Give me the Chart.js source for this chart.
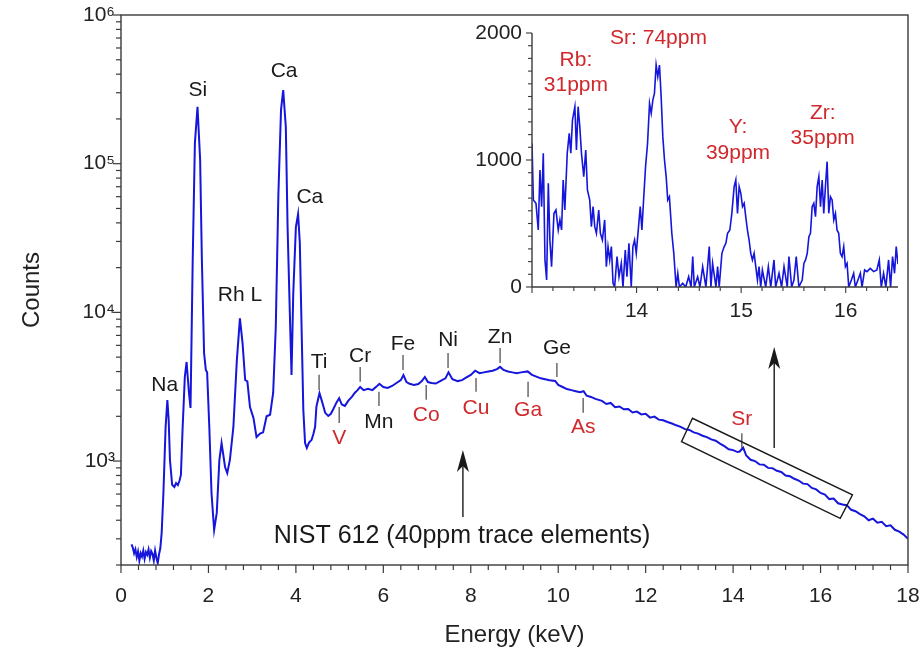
<!DOCTYPE html>
<html>
<head>
<meta charset="utf-8">
<script src="https://cdn.jsdelivr.net/npm/chart.js@4.4.0/dist/chart.umd.min.js"></script>
<style>
    html, body { margin: 0; padding: 0; background: #fff; }
    #wrap { position: relative; width: 922px; height: 652px; }
    #main { position: absolute; left: 0; top: 0; }
    #inset { position: absolute; left: 460px; top: 15px; }
</style>
</head>
<body>
<div id="wrap">
    <canvas id="main" width="922" height="652"></canvas>
    <canvas id="inset" width="450" height="312"></canvas>
</div>
<script>
// main spectrum (keV, counts)
const energy = [
    0.24, 0.27, 0.30, 0.33, 0.36, 0.39, 0.42, 0.45, 0.48, 0.51, 0.54, 0.57, 0.60, 0.63, 0.66, 0.69,
    0.72, 0.75, 0.78, 0.81, 0.84, 0.87, 0.90, 0.93, 0.97, 1.02, 1.06, 1.09, 1.12, 1.17, 1.22, 1.26,
    1.30, 1.34, 1.37, 1.41, 1.46, 1.50, 1.555, 1.59, 1.64, 1.69, 1.75, 1.81, 1.85, 1.90, 1.94, 1.97,
    2.02, 2.07, 2.13, 2.19, 2.25, 2.30, 2.38, 2.43, 2.49, 2.57, 2.65, 2.72, 2.78, 2.84, 2.89, 2.95,
    3.03, 3.10, 3.18, 3.25, 3.33, 3.41, 3.48, 3.54, 3.60, 3.66, 3.71, 3.77, 3.81, 3.87, 3.90, 3.94,
    4.00, 4.05, 4.09, 4.13, 4.17, 4.21, 4.25, 4.30, 4.36, 4.40, 4.44, 4.47, 4.54, 4.60, 4.67, 4.74,
    4.80, 4.86, 4.93, 4.99, 5.05, 5.12, 5.20, 5.28, 5.35, 5.41, 5.47, 5.55, 5.65, 5.75, 5.85, 5.91,
    6.00, 6.10, 6.20, 6.30, 6.40, 6.46, 6.53, 6.60, 6.70, 6.80, 6.88, 6.95, 7.02, 7.10, 7.20, 7.30,
    7.42, 7.49, 7.58, 7.70, 7.80, 7.90, 8.00, 8.10, 8.20, 8.30, 8.40, 8.50, 8.60, 8.67, 8.75, 8.85,
    8.95, 9.05, 9.15, 9.30, 9.40, 9.50, 9.60, 9.70, 9.80, 9.93, 10.0, 10.1, 10.2, 10.3, 10.4, 10.5,
    10.58, 10.65, 10.75, 10.85, 11.0, 11.1, 11.2, 11.3, 11.4, 11.5, 11.6, 11.7, 11.8, 11.9, 12.0, 12.1,
    12.2, 12.3, 12.4, 12.5, 12.6, 12.7, 12.8, 12.9, 13.0, 13.1, 13.2, 13.3, 13.4, 13.5, 13.6, 13.7,
    13.8, 13.9, 14.0, 14.1, 14.15, 14.23, 14.3, 14.4, 14.5, 14.6, 14.7, 14.8, 14.9, 15.0, 15.1, 15.2,
    15.3, 15.4, 15.5, 15.6, 15.7, 15.8, 15.9, 16.0, 16.1, 16.2, 16.3, 16.4, 16.5, 16.6, 16.7, 16.8,
    16.9, 17.0, 17.1, 17.2, 17.3, 17.4, 17.5, 17.6, 17.7, 17.8, 17.9, 18.0
];
const counts = [
    275, 262, 240, 255, 226, 246, 214, 240, 228, 250, 220, 244, 234, 254, 224, 248,
    238, 214, 250, 224, 206, 236, 260, 329, 610, 1690, 2570, 1900, 1016, 692, 670, 712,
    690, 740, 807, 1690, 3680, 4640, 2870, 2277, 22500, 137700, 241600, 106000, 22500, 5330, 4100, 3950,
    1690, 610, 344, 448, 1016, 1320, 912, 830, 1016, 1690, 4790, 9120, 6220, 3510, 3440, 2310,
    1950, 1450, 1530, 1560, 2000, 2050, 2870, 7940, 63000, 230000, 313000, 176000, 37500, 7940, 3790, 13500,
    37500, 45900, 29300, 7940, 2210, 1320, 1225, 1330, 1390, 1520, 1700, 2330, 2860, 2500, 2110, 2010,
    2080, 2250, 2480, 2650, 2400, 2350, 2550, 2700, 2880, 3000, 3150, 3000, 3060, 3000, 3180, 3310,
    3150, 3100, 3200, 3350, 3500, 3790, 3400, 3310, 3250, 3300, 3450, 3680, 3400, 3350, 3320, 3450,
    3600, 3950, 3550, 3450, 3500, 3650, 3800, 4050, 3900, 3950, 4000, 4050, 4150, 4300, 4100, 4000,
    3950, 3900, 3950, 4010, 3800, 3700, 3600, 3550, 3500, 3460, 3250, 3150, 3050, 3000, 2950, 2900,
    2950, 2750, 2700, 2620, 2540, 2420, 2460, 2300, 2330, 2230, 2240, 2120, 2150, 2060, 2080, 1960,
    1990, 1900, 1880, 1830, 1790, 1740, 1700, 1640, 1620, 1560, 1530, 1480, 1450, 1400, 1370, 1310,
    1260, 1200, 1185, 1150, 1160, 1230, 1090, 1020, 1000, 950, 945, 900, 895, 860, 845, 800,
    790, 760, 740, 705, 700, 660, 645, 610, 595, 555, 560, 520, 510, 505, 470, 460,
    440, 425, 400, 410, 385, 390, 365, 370, 345, 335, 320, 300
];

// inset: 13 - 16.5 keV on a linear count axis
const insetEnergy = [
    13.000, 13.013, 13.038, 13.060, 13.076, 13.092, 13.108, 13.124, 13.140, 13.156, 13.171, 13.187,
    13.210, 13.229, 13.251, 13.267, 13.283, 13.298, 13.314, 13.337, 13.356, 13.371, 13.387, 13.410,
    13.425, 13.441, 13.457, 13.473, 13.495, 13.514, 13.530, 13.552, 13.568, 13.584, 13.600, 13.616,
    13.638, 13.654, 13.673, 13.695, 13.711, 13.727, 13.743, 13.759, 13.775, 13.790, 13.813, 13.832,
    13.854, 13.870, 13.892, 13.908, 13.927, 13.949, 13.965, 13.981, 13.997, 14.019, 14.035, 14.051,
    14.067, 14.086, 14.105, 14.124, 14.140, 14.156, 14.171, 14.187, 14.203, 14.219, 14.235, 14.251,
    14.267, 14.283, 14.298, 14.314, 14.337, 14.356, 14.378, 14.394, 14.410, 14.441, 14.470, 14.498,
    14.521, 14.537, 14.552, 14.584, 14.606, 14.632, 14.663, 14.695, 14.711, 14.727, 14.759, 14.775,
    14.790, 14.816, 14.838, 14.854, 14.870, 14.892, 14.911, 14.933, 14.949, 14.965, 14.981, 14.997,
    15.013, 15.029, 15.044, 15.060, 15.076, 15.092, 15.108, 15.124, 15.140, 15.156, 15.171, 15.187,
    15.203, 15.235, 15.260, 15.283, 15.314, 15.330, 15.362, 15.387, 15.410, 15.441, 15.457, 15.483,
    15.505, 15.527, 15.552, 15.584, 15.600, 15.616, 15.632, 15.648, 15.663, 15.679, 15.695, 15.711,
    15.727, 15.743, 15.759, 15.775, 15.790, 15.806, 15.822, 15.838, 15.854, 15.870, 15.886, 15.902,
    15.917, 15.933, 15.949, 15.965, 15.981, 15.997, 16.013, 16.029, 16.054, 16.076, 16.092, 16.117,
    16.140, 16.156, 16.181, 16.203, 16.235, 16.267, 16.298, 16.321, 16.340, 16.362, 16.384, 16.410,
    16.429, 16.448, 16.467, 16.483, 16.500
];
const insetCounts = [
    1131, 685, 659, 449, 921, 633, 1053, 213, 55, 816, 370, 160,
    580, 606, 449, 528, 449, 843, 606, 1053, 1210, 1053, 1315, 1420,
    1079, 1420, 1263, 1053, 869, 1079, 764, 685, 475, 633, 475, 423,
    606, 423, 370, 528, 160, 318, 213, 318, 29, 0, 239, 81,
    186, 0, 291, 81, 344, 0, 318, 370, 265, 475, 633, 449,
    685, 948, 1131, 1446, 1368, 1473, 1525, 1748, 1656, 1748, 1499, 1184,
    1000, 869, 685, 711, 423, 265, 0, 108, 0, 29, 0, 81,
    0, 239, 0, 81, 0, 160, 0, 318, 0, 186, 0, 160,
    0, 265, 318, 344, 423, 449, 580, 790, 843, 580, 790, 738,
    633, 659, 554, 449, 370, 265, 213, 265, 160, 55, 160, 0,
    134, 0, 160, 0, 213, 0, 108, 0, 160, 0, 239, 0,
    55, 239, 0, 55, 186, 213, 265, 396, 423, 633, 659, 554,
    790, 869, 633, 843, 580, 790, 987, 580, 711, 685, 528, 580,
    449, 423, 265, 239, 318, 160, 186, 0, 55, 108, 0, 55,
    108, 0, 134, 121, 147, 121, 134, 213, 0, 108, 0, 213,
    0, 239, 108, 318, 180
];

// tick labels
const xMajorTicks = [0, 2, 4, 6, 8, 10, 12, 14, 16, 18];
const yMajorTicks = [1e3, 1e4, 1e5, 1e6];
const yTickLabels = ["10\u00b3", "10\u2074", "10\u2075", "10\u2076"];
const insetXTicks = [14, 15, 16];
const insetYTicks = [0, 1000, 2000];

// peak labels on the main spectrum: [text, keV, counts, red?]
const peakLabels = [
    ["Na", 1.00, 3250, false], ["Si", 1.76, 313000, false], ["Ca", 3.73, 420000, false],
    ["Ca", 4.32, 59700, false], ["Rh L", 2.72, 13100, false], ["Ti", 4.53, 4640, false],
    ["Cr", 5.47, 5090, false], ["Fe", 6.45, 6120, false], ["Ni", 7.48, 6520, false],
    ["Zn", 8.67, 6840, false], ["Ge", 9.97, 5760, false], ["Mn", 5.90, 1830, false],
    ["V", 4.99, 1430, true], ["Co", 6.98, 2040, true], ["Cu", 8.12, 2280, true],
    ["Ga", 9.31, 2210, true], ["As", 10.57, 1690, true], ["Sr", 14.20, 1920, true]
];
// short marker lines under / over the labels: [keV, counts top, counts bottom]
const peakMarkers = [
    [4.53, 3800, 3010], [5.47, 4300, 3410], [6.45, 5170, 4100], [7.48, 5340, 4230],
    [8.67, 5760, 4570], [9.97, 4570, 3680], [5.90, 2920, 2350], [4.99, 2310, 1800],
    [6.98, 3250, 2580], [8.12, 3620, 2920], [9.31, 3410, 2700], [10.57, 2660, 2110],
    [14.20, 1540, 1225]
];
// zoom box corners and arrows, in keV / counts
const zoomBox = [[13.07, 1940], [12.82, 1350], [16.45, 412], [16.73, 592]];
const arrows = [[7.82, 421, 1189], [14.94, 1225, 5850]];
const noteText = ["NIST 612 (40ppm trace elements)", 7.80, 313];

// inset labels: [text, keV, counts]
const insetLabels = [
    ["Rb:", 13.42, 1787], ["31ppm", 13.42, 1591], ["Sr: 74ppm", 14.21, 1961],
    ["Y:", 14.97, 1260], ["39ppm", 14.97, 1055], ["Zr:", 15.78, 1370], ["35ppm", 15.78, 1173]
];

const FONT = "'Liberation Sans', Arial, sans-serif";
const BLUE = "#1515dc";
const RED = "#d0282c";
const INK = "#1a1a1a";
const AXIS = "#3a3a3a";

function tick(ctx, x1, y1, x2, y2) {
    ctx.beginPath();
    ctx.moveTo(x1, y1);
    ctx.lineTo(x2, y2);
    ctx.stroke();
}

// keep tick-label overhang from shrinking the plot area
function noOverhang(s) {
    s.paddingLeft = 0;
    s.paddingRight = 0;
    s.paddingTop = 0;
    s.paddingBottom = 0;
}

const mainDecor = {
    id: "mainDecor",
    afterDraw(chart) {
        /**
         * Frame, tick marks, peak labels, the zoom box and arrows for the
         * main log-scale spectrum. Everything is placed through the scales.
         */
        const ctx = chart.ctx;
        const a = chart.chartArea;
        const xs = chart.scales.x;
        const ys = chart.scales.y;
        ctx.save();
        ctx.strokeStyle = AXIS;
        ctx.lineWidth = 1.4;
        ctx.strokeRect(a.left, a.top, a.right - a.left, a.bottom - a.top);

        ctx.lineWidth = 1.2;
        for (let k = 0; k <= 45; k++) {
            const px = xs.getPixelForValue(k * 0.4);
            tick(ctx, px, a.bottom, px, a.bottom + (k % 5 === 0 ? 8 : 5));
        }
        for (let d = 2; d <= 6; d++) {
            for (let m = 1; m <= 9; m++) {
                const v = m * Math.pow(10, d);
                if (v < 200 || v > 1e6) continue;
                const py = ys.getPixelForValue(v);
                tick(ctx, a.left, py, a.left - (m === 1 ? 8 : 5), py);
            }
        }

        // marker lines
        ctx.strokeStyle = "#444";
        ctx.lineWidth = 1.2;
        peakMarkers.forEach(([e, top, bot]) => {
            const px = xs.getPixelForValue(e);
            tick(ctx, px, ys.getPixelForValue(top), px, ys.getPixelForValue(bot));
        });

        ctx.textAlign = "center";
        ctx.textBaseline = "middle";
        ctx.font = "21px " + FONT;
        peakLabels.forEach(([txt, e, c, red]) => {
            ctx.fillStyle = red ? RED : INK;
            ctx.fillText(txt, xs.getPixelForValue(e), ys.getPixelForValue(c));
        });

        ctx.font = "25px " + FONT;
        ctx.fillStyle = INK;
        ctx.fillText(noteText[0], xs.getPixelForValue(noteText[1]), ys.getPixelForValue(noteText[2]));

        // zoom box
        ctx.strokeStyle = INK;
        ctx.lineWidth = 1.4;
        ctx.beginPath();
        zoomBox.forEach(([e, c], i) => {
            const px = xs.getPixelForValue(e), py = ys.getPixelForValue(c);
            if (i === 0) ctx.moveTo(px, py); else ctx.lineTo(px, py);
        });
        ctx.closePath();
        ctx.stroke();

        // arrows pointing up
        arrows.forEach(([e, c0, c1]) => {
            const px = xs.getPixelForValue(e);
            const y0 = ys.getPixelForValue(c0), y1 = ys.getPixelForValue(c1);
            ctx.lineWidth = 1.4;
            tick(ctx, px, y0, px, y1 + 10);
            ctx.beginPath();
            ctx.moveTo(px, y1);
            ctx.lineTo(px - 6, y1 + 22);
            ctx.lineTo(px, y1 + 16);
            ctx.lineTo(px + 6, y1 + 22);
            ctx.closePath();
            ctx.fillStyle = INK;
            ctx.fill();
        });
        ctx.restore();
    }
};

const insetDecor = {
    id: "insetDecor",
    afterDraw(chart) {
        const ctx = chart.ctx;
        const a = chart.chartArea;
        const xs = chart.scales.x;
        const ys = chart.scales.y;
        ctx.save();
        ctx.strokeStyle = AXIS;
        ctx.lineWidth = 1.4;
        tick(ctx, a.left, a.top, a.left, a.bottom);
        tick(ctx, a.left, a.bottom, a.right, a.bottom);

        ctx.lineWidth = 1.1;
        for (let k = 0; k <= 17; k++) {
            const v = 13 + k * 0.2;
            const px = xs.getPixelForValue(v);
            const major = Math.abs(v - Math.round(v)) < 1e-6;
            tick(ctx, px, a.bottom, px, a.bottom + (major ? 6 : 4));
        }
        for (let k = 0; k <= 20; k++) {
            const py = ys.getPixelForValue(k * 100);
            tick(ctx, a.left, py, a.left - (k % 10 === 0 ? 6 : 4), py);
        }

        ctx.textAlign = "center";
        ctx.textBaseline = "middle";
        ctx.font = "21px " + FONT;
        ctx.fillStyle = RED;
        insetLabels.forEach(([txt, e, c]) => {
            ctx.fillText(txt, xs.getPixelForValue(e), ys.getPixelForValue(c));
        });
        ctx.restore();
    }
};

const tickFont = {family: FONT, size: 21};

new Chart(document.getElementById("main"), {
    type: "scatter",
    data: {
        datasets: [{
            data: energy.map((e, i) => ({x: e, y: counts[i]})),
            showLine: true,
            borderColor: BLUE,
            borderWidth: 2,
            pointRadius: 0,
            tension: 0
        }]
    },
    options: {
        responsive: false,
        animation: false,
        layout: {padding: {left: 0, right: 14, top: 15, bottom: 0}},
        plugins: {legend: {display: false}, tooltip: {enabled: false}},
        scales: {
            x: {
                type: "linear",
                min: 0,
                max: 18,
                afterBuildTicks: s => { s.ticks = xMajorTicks.map(v => ({value: v})); },
                afterFit: s => { s.height = 87; noOverhang(s); },
                grid: {display: false, drawTicks: false},
                border: {display: false},
                ticks: {padding: 19, font: tickFont, color: "#222", maxRotation: 0, autoSkip: false},
                title: {display: true, text: "Energy (keV)", font: {family: FONT, size: 24}, color: "#222",
                        padding: {top: 0, bottom: 2}}
            },
            y: {
                type: "logarithmic",
                min: 200,
                max: 1e6,
                afterBuildTicks: s => { s.ticks = yMajorTicks.map(v => ({value: v})); },
                afterFit: s => { s.width = 121; noOverhang(s); },
                grid: {display: false, drawTicks: false},
                border: {display: false},
                ticks: {
                    padding: 6, font: tickFont, color: "#222", autoSkip: false,
                    callback: v => yTickLabels[yMajorTicks.indexOf(v)]
                },
                title: {display: true, text: "Counts", font: {family: FONT, size: 24}, color: "#222",
                        padding: {top: 18, bottom: 0}}
            }
        }
    },
    plugins: [mainDecor]
});

new Chart(document.getElementById("inset"), {
    type: "scatter",
    data: {
        datasets: [{
            data: insetEnergy.map((e, i) => ({x: e, y: insetCounts[i]})),
            showLine: true,
            borderColor: BLUE,
            borderWidth: 1.6,
            pointRadius: 0,
            tension: 0
        }]
    },
    options: {
        responsive: false,
        animation: false,
        layout: {padding: {left: 0, right: 12, top: 18, bottom: 0}},
        plugins: {legend: {display: false}, tooltip: {enabled: false}},
        scales: {
            x: {
                type: "linear",
                min: 13,
                max: 16.5,
                afterBuildTicks: s => { s.ticks = insetXTicks.map(v => ({value: v})); },
                afterFit: s => { s.height = 40; noOverhang(s); },
                grid: {display: false, drawTicks: false},
                border: {display: false},
                ticks: {padding: 12, font: tickFont, color: "#222", maxRotation: 0, autoSkip: false}
            },
            y: {
                type: "linear",
                min: 0,
                max: 2000,
                afterBuildTicks: s => { s.ticks = insetYTicks.map(v => ({value: v})); },
                afterFit: s => { s.width = 72; noOverhang(s); },
                grid: {display: false, drawTicks: false},
                border: {display: false},
                ticks: {padding: 10, font: tickFont, color: "#222", autoSkip: false, callback: v => String(v)}
            }
        }
    },
    plugins: [insetDecor]
});
</script>
</body>
</html>
